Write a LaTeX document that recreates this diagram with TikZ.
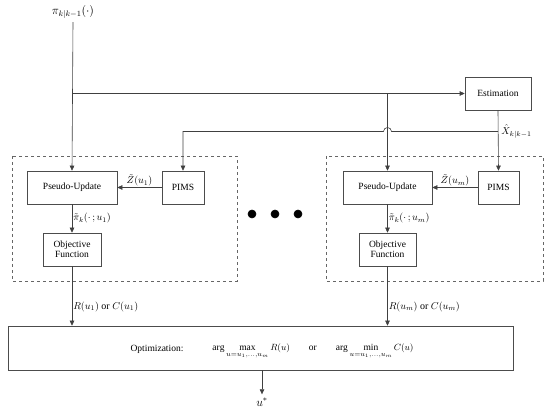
\documentclass[tikz,border=0pt]{standalone}
\usepackage{amsmath,amssymb}
\usepackage{fontspec}
\setmainfont{Liberation Serif}
\usepackage{tikz}
\usetikzlibrary{arrows.meta}
\usetikzlibrary{positioning}

\begin{document}
\begin{tikzpicture}[
  x=1pt, y=-1pt,
  every node/.style={font=\fontsize{9.5}{11}\selectfont},
  box/.style={rectangle,draw=black!70,line width=0.6pt,minimum height=33,inner sep=2pt},
  grp/.style={draw=black!60,dashed,line width=0.6pt},
  lbl/.style={inner sep=1pt,font=\fontsize{10}{12}\selectfont},
  >={Stealth[length=5pt,width=4.5pt,inset=0pt]}
]
  \useasboundingbox (0,0) rectangle (550,411);
  \tikzset{every path/.style={draw=black!75,line width=0.6pt}}

  \node (pi) at (73,12) {\fontsize{12}{14}\selectfont$\pi_{k|k-1}(\cdot)$};
  \node[box,minimum width=66] (est) at (498,93.5) {Estimation};

  % groups
  \draw[grp] (12,156) rectangle (237,281);
  \draw[grp] (326,156) rectangle (543,281);

  \node[box,minimum width=90] (pu1)   at (72,187.5)  {Pseudo-Update};
  \node[box,minimum width=42] (pims1) at (183,187.5) {PIMS};
  \node[box,minimum width=58,align=center] (obj1) at (72,249.5) {Objective\\[-1pt]Function};

  \node[box,minimum width=89] (pu2)   at (387.5,187.5) {Pseudo-Update};
  \node[box,minimum width=41] (pims2) at (498.5,187.5) {PIMS};
  \node[box,minimum width=57,align=center] (obj2) at (387.5,249.5) {Objective\\[-1pt]Function};

  \fill[black] (252,214) circle (4);
  \fill[black] (275,214) circle (4);
  \fill[black] (298,214) circle (4);

  \node[box,minimum width=505,minimum height=44] (opt) at (260.5,348) {};
  \node (optlbl) at (157,349) {Optimization:};
  \node (optfx) at (313,351)
    {$\arg\max\limits_{u=u_1,\ldots,u_m} R(u)$\hspace{2em}or\hspace{2em}$\arg\min\limits_{u=u_1,\ldots,u_m} C(u)$};
  \node (ustar) at (262,402) {\fontsize{12}{14}\selectfont$u^{*}$};

  \coordinate (t1) at (pu1.north |- est.west);
  \coordinate (t2) at (pu2.north |- est.west);
  \coordinate (xk) at (est.south |- 0,131.5);
  \coordinate (jp) at (pu2.north |- xk);
  \coordinate (p1) at (pims1.north |- xk);

  \draw[->] (pi.south) -- (pu1.north);
  \draw[->] (t1) -- (est.west);
  \draw[->] (t2) -- (pu2.north);
  \draw[->] (est.south) -- (pims2.north);
  \node[lbl,anchor=west] (xhat) at ([xshift=2pt]xk) {$\hat{X}_{k|k-1}$};
  \draw[->] (xk) -- ([xshift=4]jp) arc[start angle=0,end angle=-180,radius=4] -- (p1) -- (pims1.north);

  \draw[->] (pims1.west) -- node[lbl,above]{$\tilde{Z}(u_1)$} (pu1.east);
  \draw[->] (pu1.south) -- node[lbl,right]{$\tilde{\pi}_k(\cdot\,;u_1)$} (obj1.north);
  \draw[->] (obj1.south) -- node[lbl,right,pos=0.68]{$R(u_1)$ or $C(u_1)$} (obj1.south |- opt.north);

  \draw[->] (pims2.west) -- node[lbl,above]{$\tilde{Z}(u_m)$} (pu2.east);
  \draw[->] (pu2.south) -- node[lbl,right]{$\tilde{\pi}_k(\cdot\,;u_m)$} (obj2.north);
  \draw[->] (obj2.south) -- node[lbl,right,pos=0.68]{$R(u_m)$ or $C(u_m)$} (obj2.south |- opt.north);

  \draw[->] (ustar.north |- opt.south) -- (ustar.north);
\end{tikzpicture}
\end{document}
